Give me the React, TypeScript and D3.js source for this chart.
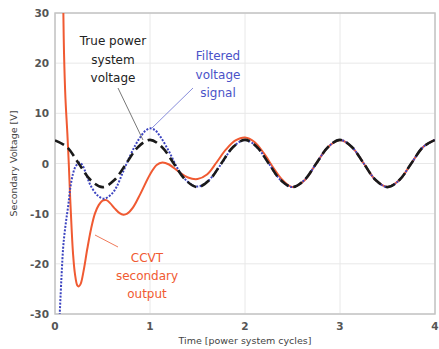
import React from "react";
import * as d3 from "d3";

// ---- data ----
const xTicks = [0, 1, 2, 3, 4];
const yTicks = [30, 20, 10, 0, -10, -20, -30];

const trueT = [0, 0.125, 0.25, 0.375, 0.5, 0.625, 0.75, 0.875, 1, 1.125, 1.25, 1.375, 1.5, 1.625, 1.75, 1.875, 2, 2.125, 2.25, 2.375, 2.5, 2.625, 2.75, 2.875, 3, 3.125, 3.25, 3.375, 3.5, 3.625, 3.75, 3.875, 4];
const trueV = [4.6, 3.3, 0, -3.3, -4.7, -3.3, 0, 3.3, 4.7, 3.3, 0, -3.3, -4.7, -3.3, 0, 3.3, 4.7, 3.3, 0, -3.3, -4.7, -3.3, 0, 3.3, 4.7, 3.3, 0, -3.3, -4.7, -3.3, 0, 3.3, 4.7];

const filtT = [0.03, 0.05, 0.07, 0.085, 0.1, 0.12, 0.14, 0.16, 0.19, 0.22, 0.26, 0.29, 0.33, 0.37, 0.45, 0.52, 0.6, 0.65, 0.72, 0.79, 0.85, 0.9, 0.95, 1.0, 1.05, 1.1, 1.2, 1.3, 1.4, 1.5, 1.6, 1.75, 1.875, 2, 2.125, 2.25, 2.375, 2.5, 2.625, 2.75, 2.875, 3, 3.125, 3.25, 3.375, 3.5, 3.625, 3.75, 3.875, 4];
const filtV = [-40, -30, -22, -17, -14, -11, -8.3, -5, -2, -0.5, 0.2, -0.4, -2.2, -4.2, -6.4, -7, -6, -4.6, -1.5, 1.5, 3.8, 5.3, 6.5, 7, 6.7, 5.6, 2.4, -1.3, -3.7, -4.6, -3.7, -0.1, 3.3, 4.7, 3.3, 0, -3.3, -4.7, -3.3, 0, 3.3, 4.7, 3.3, 0, -3.3, -4.7, -3.3, 0, 3.3, 4.7];

const ccvtT = [0.08, 0.088, 0.095, 0.11, 0.13, 0.145, 0.16, 0.175, 0.19, 0.21, 0.235, 0.25, 0.27, 0.3, 0.34, 0.38, 0.42, 0.46, 0.5, 0.54, 0.58, 0.63, 0.68, 0.72, 0.76, 0.82, 0.9, 1.0, 1.07, 1.13, 1.2, 1.3, 1.4, 1.5, 1.6, 1.7, 1.8, 1.9, 2.0, 2.1, 2.2, 2.3, 2.4, 2.5, 2.625, 2.75, 2.875, 3, 3.125, 3.25, 3.375, 3.5, 3.625, 3.75, 3.875, 4];
const ccvtV = [42, 30, 22, 13, 6, 0, -7, -13, -18, -22, -24.3, -24.5, -24, -21.5, -17, -13, -10, -8.3, -7.4, -7.3, -7.9, -9, -9.9, -10.2, -10, -8.8, -6, -2.2, -0.3, 0.2, -0.2, -1.6, -2.8, -3.1, -2.2, 0.2, 2.8, 4.6, 5.2, 4.3, 2, -0.9, -3.4, -4.7, -3.4, 0, 3.3, 4.7, 3.3, 0, -3.3, -4.7, -3.3, 0, 3.3, 4.7];

const trueLabel = ["True power", "system", "voltage"];
const filtLabel = ["Filtered", "voltage", "signal"];
const ccvtLabel = ["CCVT", "secondary", "output"];

// ---- layout ----
const W = 439, H = 349;
const L = 55, R = 435, T = 13, B = 314;

export default function App() {
  const x = d3.scaleLinear().domain([0, 4]).range([L, R]);
  const y = d3.scaleLinear().domain([-30, 30]).range([B, T]);
  const line = d3
    .line<[number, number]>()
    .x((d) => x(d[0]))
    .y((d) => y(d[1]))
    .curve(d3.curveCatmullRom.alpha(0.5));
  const zip = (a: number[], b: number[]) => a.map((t, i) => [t, b[i]] as [number, number]);
  const font = "'DejaVu Sans', Verdana, sans-serif";

  return (
    <svg
      width={W}
      height={H}
      style={{ position: "absolute", left: 0, top: 0, background: "#fff" }}
      fontFamily={font}
    >
      <defs>
        <clipPath id="plot">
          <rect x={L} y={T} width={R - L} height={B - T} />
        </clipPath>
      </defs>
      {/* grid */}
      {xTicks.map((t) => (
        <line key={"gx" + t} x1={x(t)} x2={x(t)} y1={T} y2={B} stroke="#e8e8e8" strokeWidth={1} />
      ))}
      {yTicks.map((t) => (
        <line key={"gy" + t} x1={L} x2={R} y1={y(t)} y2={y(t)} stroke="#e8e8e8" strokeWidth={1} />
      ))}
      <rect x={L} y={T} width={R - L} height={B - T} fill="none" stroke="#c4c4c4" strokeWidth={1.5} />

      {/* tick labels */}
      {yTicks.map((t) => (
        <text key={"ty" + t} x={L - 6} y={y(t) + 4} textAnchor="end" fontSize={10.5} fill="#555" fontWeight="bold">
          {t}
        </text>
      ))}
      {xTicks.map((t) => (
        <text key={"tx" + t} x={x(t)} y={B + 16} textAnchor="middle" fontSize={10.5} fill="#555" fontWeight="bold">
          {t}
        </text>
      ))}
      <text x={245} y={344} textAnchor="middle" fontSize={9.5} fill="#444">
        Time [power system cycles]
      </text>
      <text transform={`translate(17,${y(0)}) rotate(-90)`} textAnchor="middle" fontSize={9.5} fill="#444">
        Secondary Voltage [V]
      </text>

      {/* series */}
      <g clipPath="url(#plot)">
        <path d={line(zip(ccvtT, ccvtV)) || ""} fill="none" stroke="#f05a32" strokeWidth={2} />
        <path d={line(zip(filtT, filtV)) || ""} fill="none" stroke="#3c44c0" strokeWidth={2} strokeDasharray="2,1.5" />
        <path d={line(zip(trueT, trueV)) || ""} fill="none" stroke="#1a1a1a" strokeWidth={2.6} strokeDasharray="10,5" />
      </g>

      {/* annotations */}
      <line x1={118} y1={88} x2={143} y2={140} stroke="#555" strokeWidth={0.8} />
      <line x1={193} y1={88} x2={152} y2={128} stroke="#6a70d0" strokeWidth={0.8} />
      <line x1={95} y1={235} x2={118} y2={247} stroke="#f07a5a" strokeWidth={1} />

      {trueLabel.map((s, i) => (
        <text key={"a" + i} x={113} y={45 + i * 18.5} textAnchor="middle" fontSize={12} fill="#222">
          {s}
        </text>
      ))}
      {filtLabel.map((s, i) => (
        <text key={"b" + i} x={218} y={60 + i * 18.5} textAnchor="middle" fontSize={12} fill="#4a52c8">
          {s}
        </text>
      ))}
      {ccvtLabel.map((s, i) => (
        <text key={"c" + i} x={147} y={262 + i * 18} textAnchor="middle" fontSize={12} fill="#f05a32">
          {s}
        </text>
      ))}
    </svg>
  );
}
